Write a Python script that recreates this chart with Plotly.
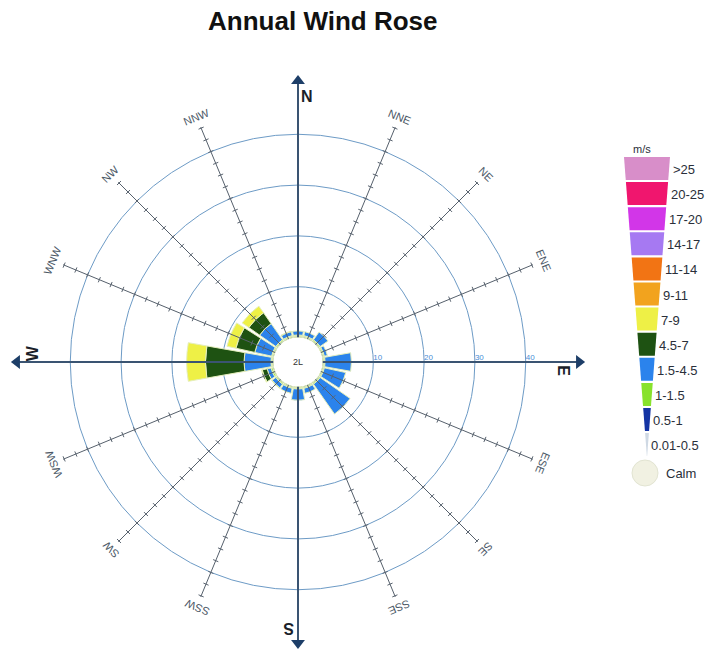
import math
import plotly.graph_objects as go

# ---- data -----------------------------------------------------------------
directions = ["N", "NNE", "NE", "ENE", "E", "ESE", "SE", "SSE",
              "S", "SSW", "SW", "WSW", "W", "WNW", "NW", "NNW"]
dir_angles = [i * 22.5 for i in range(16)]

speed_bins = ["0.01-0.5", "0.5-1", "1-1.5", "1.5-4.5", "4.5-7", "7-9",
              "9-11", "11-14", "14-17", "17-20", "20-25", ">25"]
bin_colors = ["#cfd9e4", "#1434a4", "#88e22c", "#2b83ec", "#1e5212", "#eef046",
              "#f2a31e", "#f27414", "#a679f2", "#d236e8", "#f0166e", "#d88ec9"]

# frequency (%) per direction, N clockwise to NNW
freq_001_05 = [0.1, 0.1, 0.1, 0.1, 0.1, 0.1, 0.1, 0.1, 0.1, 0.1, 0.1, 0.1, 0.1, 0.1, 0.1, 0.1]
freq_05_1   = [0.2, 0.2, 0.2, 0.2, 0.2, 0.2, 0.2, 0.2, 0.2, 0.2, 0.2, 0.2, 0.2, 0.2, 0.2, 0.2]
freq_1_15   = [0.2, 0.2, 0.2, 0.2, 0.2, 0.2, 0.2, 0.2, 0.2, 0.2, 0.2, 0.3, 0.2, 0.2, 0.2, 0.2]
freq_15_45  = [0.8, 0.8, 1.9, 0.6, 5.2, 4.3, 7.2, 1.0, 2.2, 1.0, 0.9, 0.8, 5.3, 3.4, 3.9, 0.8]
freq_45_7   = [0.0, 0.0, 0.0, 0.0, 0.0, 0.0, 0.0, 0.0, 0.0, 0.0, 0.1, 1.0, 7.6, 3.8, 2.6, 0.1]
freq_7_9    = [0.0, 0.0, 0.0, 0.0, 0.0, 0.0, 0.0, 0.0, 0.0, 0.0, 0.0, 0.15, 3.7, 1.8, 1.6, 0.0]
freq_9_11   = [0.0] * 16
freq_11_14  = [0.0] * 16
freq_14_17  = [0.0] * 16
freq_17_20  = [0.0] * 16
freq_20_25  = [0.0] * 16
freq_gt25   = [0.0] * 16
calm_label = "2L"

ring_values = [10, 20, 30, 40]
ring_labels = ["10", "20", "30", "40"]

series = [freq_001_05, freq_05_1, freq_1_15, freq_15_45, freq_45_7, freq_7_9,
          freq_9_11, freq_11_14, freq_14_17, freq_17_20, freq_20_25, freq_gt25]

# ---- geometry of the rose -------------------------------------------------
FIG_W, FIG_H = 705, 651
CX, CY = 298.0, 362.0          # centre of the rose (px)
R_OUT, R_HOLE = 288.7, 24.5    # outer radius of the polar area / calm hole (px)
R_MAX = 52.0                   # radial range
SPOKE_END = 45.2
TIP = 51.6
FONT = "Liberation Sans, Arial"


def paper(x, y):
    return x / FIG_W, 1 - y / FIG_H


def rose_point(r, compass, tangential=0.0):
    rpx = R_HOLE + r * (R_OUT - R_HOLE) / R_MAX
    t = math.radians(compass)
    x = CX + rpx * math.sin(t) + tangential * math.cos(t)
    y = CY - rpx * math.cos(t) + tangential * math.sin(t)
    return paper(x, y)


fig = go.Figure()

# spokes for the 12 intermediate directions, with small cross ticks
tick_r = [2.5 * k for k in range(1, 19)]
for name, ang in zip(directions, dir_angles):
    if ang % 90 == 0:
        continue
    fig.add_trace(go.Scatterpolar(
        r=[0, SPOKE_END], theta=[ang, ang], mode="lines",
        line=dict(color="#56606c", width=1), hoverinfo="skip"))
    fig.add_trace(go.Scatterpolar(
        r=tick_r, theta=[ang] * len(tick_r), mode="markers",
        marker=dict(symbol="line-ew", size=4, angle=ang,
                    line=dict(color="#5a6470", width=1)),
        hoverinfo="skip"))

# main N-S / E-W axes with arrow heads
for ang in [0, 90, 180, 270]:
    fig.add_trace(go.Scatterpolar(
        r=[0, TIP - 0.8], theta=[ang, ang], mode="lines",
        line=dict(color="#3a5472", width=2), hoverinfo="skip", cliponaxis=False))
fig.add_trace(go.Scatterpolar(
    r=[TIP - 1.1] * 4, theta=[0, 90, 180, 270], mode="markers",
    marker=dict(symbol="triangle-up", size=12, angle=[0, 90, 180, 270],
                color="#1d3e68", line=dict(width=0)),
    hoverinfo="skip", cliponaxis=False))

# stacked speed bins
for label, color, vals in zip(speed_bins, bin_colors, series):
    if not any(vals):
        continue
    fig.add_trace(go.Barpolar(
        r=vals, theta=dir_angles, width=[20] * 16, name=label,
        marker=dict(color=color, line=dict(color="#e4eebb", width=1)),
        hovertext=directions))

# ring value labels along the east axis
fig.add_trace(go.Scatterpolar(
    r=ring_values, theta=[90] * 4, mode="text", text=ring_labels,
    textposition="top right",
    textfont=dict(family=FONT, size=8, color="#4a8ed6"),
    hoverinfo="skip", cliponaxis=False))

x0, _ = paper(CX - R_OUT, 0)
x1, _ = paper(CX + R_OUT, 0)
_, y1 = paper(0, CY - R_OUT)
_, y0 = paper(0, CY + R_OUT)

fig.update_layout(
    width=FIG_W, height=FIG_H,
    margin=dict(l=0, r=0, t=0, b=0),
    paper_bgcolor="white",
    showlegend=False,
    title=dict(text="<b>Annual Wind Rose</b>", x=322.8 / FIG_W, xanchor="center",
               y=1 - 21 / FIG_H, yanchor="middle", yref="container",
               font=dict(family=FONT, size=26, color="#111111")),
    polar=dict(
        domain=dict(x=[x0, x1], y=[max(y0, 0), y1]),
        hole=R_HOLE / R_OUT,
        bgcolor="white",
        barmode="stack",
        radialaxis=dict(range=[0, R_MAX], tickvals=ring_values, showticklabels=False,
                        ticks="", showline=False, gridcolor="#6d9bc6", gridwidth=1),
        angularaxis=dict(rotation=90, direction="clockwise", showline=False,
                         showgrid=False, showticklabels=False, ticks=""),
    ),
)

annotations = []
# direction labels, written tangentially
for name, ang in zip(directions, dir_angles):
    rot = ang if ang <= 180 else ang - 360
    if ang % 90 == 0:
        px, py = rose_point(47.5, ang, tangential=9)
        text, size, color = f"<b>{name}</b>", 16, "#1b1f2a"
    else:
        px, py = rose_point(47.4, ang)
        text, size, color = name, 11, "#4b5866"
    annotations.append(dict(x=px, y=py, xref="paper", yref="paper", text=text,
                            showarrow=False, textangle=rot,
                            xanchor="center", yanchor="middle",
                            font=dict(family=FONT, size=size, color=color)))

# calm value in the centre
cx_p, cy_p = paper(CX, CY)
annotations.append(dict(x=cx_p, y=cy_p, xref="paper", yref="paper", text=calm_label,
                        showarrow=False, xanchor="center", yanchor="middle",
                        font=dict(family=FONT, size=9, color="#333333")))

# ---- speed legend drawn as a tapering column -----------------------------
shapes = []
LEG_CX, LEG_TOP, LEG_STEP, LEG_H = 647.0, 157.0, 25.1, 23.0


def half_width(y):
    return 23.0 * (458.0 - y) / 301.0


legend_order = list(range(len(speed_bins)))[::-1]   # >25 at the top
for slot, idx in enumerate(legend_order):
    top = LEG_TOP + slot * LEG_STEP
    bot = top + LEG_H
    wt, wb = half_width(top), half_width(bot)
    pts = [paper(LEG_CX - wt, top), paper(LEG_CX + wt, top),
           paper(LEG_CX + wb, bot), paper(LEG_CX - wb, bot)]
    path = "M " + " L ".join(f"{a:.5f},{b:.5f}" for a, b in pts) + " Z"
    shapes.append(dict(type="path", path=path, xref="paper", yref="paper",
                       fillcolor=bin_colors[idx], line=dict(width=0), layer="above"))
    lx, ly = paper(LEG_CX + max(wt, wb) + 0.5, (top + bot) / 2 + 1)
    annotations.append(dict(x=lx, y=ly, xref="paper", yref="paper", text=speed_bins[idx],
                            showarrow=False, xanchor="left", yanchor="middle",
                            font=dict(family=FONT, size=13, color="#2a2f3a")))

# calm marker
c0 = paper(645 - 13, 473 - 13)
c1 = paper(645 + 13, 473 + 13)
shapes.append(dict(type="circle", xref="paper", yref="paper",
                   x0=c0[0], x1=c1[0], y0=c1[1], y1=c0[1],
                   fillcolor="#f1f1e2", line=dict(color="#e2e4d2", width=1)))
lx, ly = paper(664, 473)
annotations.append(dict(x=lx, y=ly, xref="paper", yref="paper", text="Calm",
                        showarrow=False, xanchor="left", yanchor="middle",
                        font=dict(family=FONT, size=13, color="#2a2f3a")))
ux, uy = paper(642, 149)
annotations.append(dict(x=ux, y=uy, xref="paper", yref="paper", text="m/s",
                        showarrow=False, xanchor="center", yanchor="middle",
                        font=dict(family=FONT, size=11, color="#2a2f3a")))

fig.update_layout(annotations=annotations, shapes=shapes)
fig.write_html("out.html")
